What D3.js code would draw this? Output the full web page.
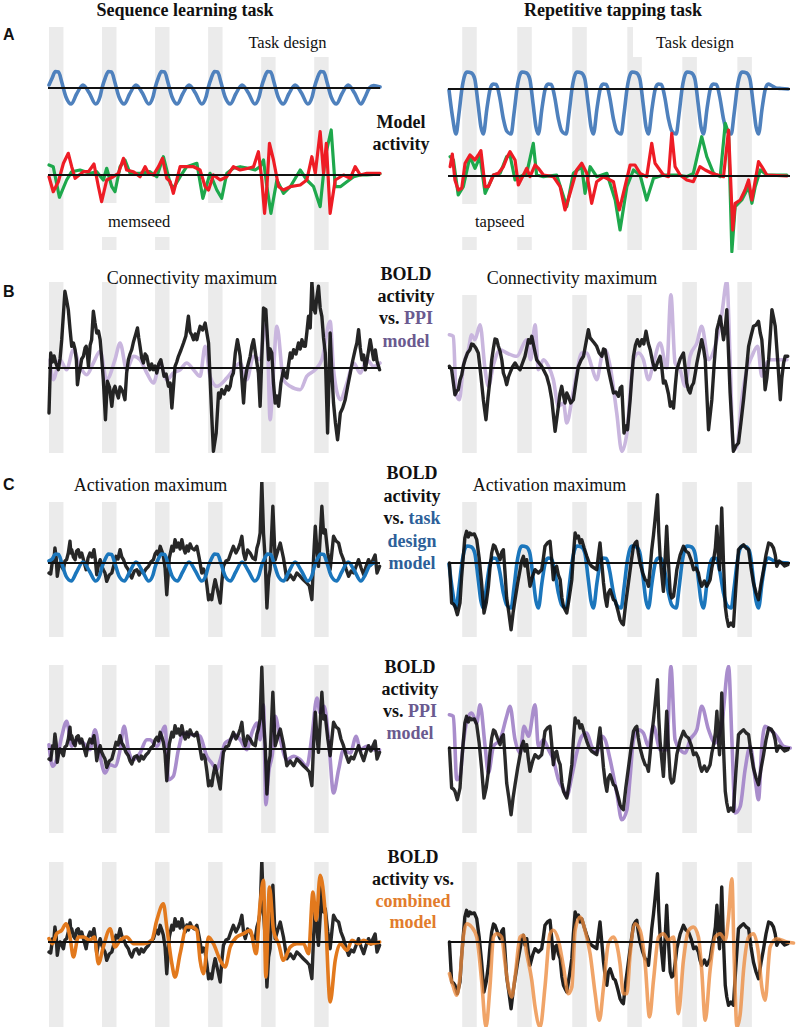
<!DOCTYPE html>
<html><head><meta charset="utf-8">
<script src="https://cdn.jsdelivr.net/npm/d3@7"></script>
<style>body{margin:0;background:#fff}svg{display:block}</style>
</head><body>
<script>
// ================= DATA (time in scans, values in a.u.) =================
const bandStartsL = [0, 25, 50, 75, 100, 125];
const bandStartsR = [6, 31, 56, 81, 106, 131];
const bandWidthL = 6.8, bandWidthR = 6.6;

// Task design regressors
const taskDesignL = [[0,0.3],[1.5,1.0],[3,1.65],[4.5,1.6],[6,0.6],[8,-0.9],[10.5,-1.6],[13,-0.6],[16,0.3],[19,-0.5],[22,-1.6],[24,-0.9],
[25,0.0],[26.5,1.0],[28,1.65],[29.5,1.6],[31,0.6],[33,-0.9],[35.5,-1.6],[38,-0.6],[41,0.3],[44,-0.5],[47,-1.6],[49,-0.9],
[50,0.0],[51.5,1.0],[53,1.65],[54.5,1.6],[56,0.6],[58,-0.9],[60.5,-1.6],[63,-0.6],[66,0.3],[69,-0.5],[72,-1.6],[74,-0.9],
[75,0.0],[76.5,1.0],[78,1.65],[79.5,1.6],[81,0.6],[83,-0.9],[85.5,-1.6],[88,-0.6],[91,0.3],[94,-0.5],[97,-1.6],[99,-0.9],
[100,0.0],[101.5,1.0],[103,1.65],[104.5,1.6],[106,0.6],[108,-0.9],[110.5,-1.6],[113,-0.6],[116,0.3],[119,-0.5],[122,-1.6],[124,-0.9],
[125,0.0],[126.5,1.0],[128,1.65],[129.5,1.6],[131,0.6],[133,-0.9],[135.5,-1.6],[138,-0.6],[141,0.3],[144,-0.5],[147,-1.6],[149,-0.9],
[151,0.0],[153,0.25],[156,0.1]];

const taskDesignR = [[0,-0.1],[1.6,-2.8],
[3.2,-4.5],[4.5,-2.5],[6,0.2],[7.2,1.4],[8.2,1.7],[10.2,1.6],[11.7,1.0],[13.2,-1.5],[14.5,-3.8],[15.6,-4.5],[17.2,-2.0],[18.7,0.0],[20,0.5],[21.5,0.45],[23,-0.8],[24.7,-3.0],[26.2,-4.2],
[28.2,-4.5],[29.5,-2.5],[31,0.2],[32.2,1.4],[33.2,1.7],[35.2,1.6],[36.7,1.0],[38.2,-1.5],[39.5,-3.8],[40.6,-4.5],[42.2,-2.0],[43.7,0.0],[45,0.5],[46.5,0.45],[48,-0.8],[49.7,-3.0],[51.2,-4.2],
[53.2,-4.5],[54.5,-2.5],[56,0.2],[57.2,1.4],[58.2,1.7],[60.2,1.6],[61.7,1.0],[63.2,-1.5],[64.5,-3.8],[65.6,-4.5],[67.2,-2.0],[68.7,0.0],[70,0.5],[71.5,0.45],[73,-0.8],[74.7,-3.0],[76.2,-4.2],
[78.2,-4.5],[79.5,-2.5],[81,0.2],[82.2,1.4],[83.2,1.7],[85.2,1.6],[86.7,1.0],[88.2,-1.5],[89.5,-3.8],[90.6,-4.5],[92.2,-2.0],[93.7,0.0],[95,0.5],[96.5,0.45],[98,-0.8],[99.7,-3.0],[101.2,-4.2],
[103.2,-4.5],[104.5,-2.5],[106,0.2],[107.2,1.4],[108.2,1.7],[110.2,1.6],[111.7,1.0],[113.2,-1.5],[114.5,-3.8],[115.6,-4.5],[117.2,-2.0],[118.7,0.0],[120,0.5],[121.5,0.45],[123,-0.8],[124.7,-3.0],[126.2,-4.2],
[128.2,-4.5],[129.5,-2.5],[131,0.2],[132.2,1.4],[133.2,1.7],[135.2,1.6],[136.7,1.0],[138.2,-1.5],[139.5,-3.8],[140.6,-4.5],[142.2,-2.0],[143.7,0.0],[145,0.5],[146.5,0.35],[148.5,0.1],[151,0.05],[154,0.0]];

// Model activity (A)
const memseedRed = [[0,-0.17],[2,-1.67],[4.4,-0.67],[6.8,1.17],[9.1,2.17],[10.7,0.83],[12.3,-0.33],[16.2,0.33],[18.6,0.33],[21.2,1.1],[23.3,-1.17],[24.8,-2.67],[27.2,-0.5],[30.3,-0.17],[32.7,0.17],[35.1,1.67],[36.6,0.5],[39.8,0.33],[42.9,-0.17],[45.3,0.83],[46.9,0.17],[49.2,0],[51.6,0.83],[53.5,1.67],[55.5,-0.33],[57.1,-0.67],[58.6,-1.83],[61.8,0.83],[64.9,0.83],[68.1,0.83],[71.2,0.5],[73.6,-1.17],[75.2,-1.5],[77.5,0],[80.7,-0.5],[83.8,-0.17],[86.9,0.83],[90.1,0.5],[94,0.67],[96.4,0.83],[98.7,2.33],[100.3,-0.5],[101.6,-3.83],[102.7,-1.17],[103.9,3.17],[105.8,1.5],[108.2,-1.17],[110.5,-1.5],[113.7,-1.17],[118.4,-1.0],[121.5,-0.5],[123.9,1.83],[125.5,0.17],[127.8,4.33],[129.4,0.17],[130.7,3.17],[132.5,-3.83],[134.9,-0.5],[138.8,0],[142,-0.33],[144.3,0.83],[146.7,0],[149.8,0.17],[156,0.17]];
const memseedGreen = [[0,1.0],[2,0.83],[4.9,-2.23],[8.3,-0.5],[10.7,0.33],[14.6,0.5],[19.3,0.17],[22.5,0.33],[25.6,-0.5],[27.2,0.67],[29.6,-1.17],[31.1,-1.67],[33.5,0.83],[35.8,1.5],[38.2,0.17],[42.9,0.17],[47.6,0.33],[50.8,-0.17],[53.9,1.83],[57.1,-0.83],[58.6,-1.33],[61.8,-0.17],[64.9,0.83],[69.7,1.17],[72.5,-2.33],[75.9,0.17],[79.1,-1.5],[81.4,-2.33],[83.8,0.17],[86.9,0.67],[90.1,0.83],[94,0.67],[97.2,0.5],[99.5,0.83],[101.1,1.5],[102.7,-1.17],[104.6,-3.83],[107.4,-0.5],[110.5,-1.83],[113.7,-1.17],[118.4,0.5],[121.5,-0.5],[124.7,-1.17],[127.8,-3.17],[130.2,1.83],[133,4.5],[134.9,-1.17],[137.3,-1.17],[140.4,-0.67],[143.6,-0.17],[146.7,0],[149.8,0],[156,0.1]];
const tapseedRed = [[0.5,0.93],[1.5,2.2],[2.7,-0.4],[4.2,-1.4],[5.8,-1.23],[7.3,1.27],[9.5,2.1],[11.8,1.6],[13.3,2.1],[14.5,2.53],[16.4,-1.07],[17.9,-1.07],[20.2,0.1],[22.4,0.27],[24.7,0.93],[26.2,1.77],[27.7,2.43],[30,1.6],[31.5,-0.9],[33.8,0.1],[35.3,0.77],[36.8,-0.07],[39.1,1.1],[40.6,0.77],[42.9,0.1],[47.4,-0.07],[50.5,-1.07],[52.7,-3.4],[55,-1.73],[58,0.6],[60.3,1.27],[62.6,0.27],[64.8,-2.73],[67.1,-0.57],[70.2,-0.07],[74.7,-0.57],[77.4,-3.4],[79.2,-1.73],[82.3,1.1],[84.5,1.1],[86.8,0.27],[89.8,-0.07],[92.1,3.27],[93.6,1.27],[97.4,0.1],[99.7,-0.07],[101.2,4.27],[102.7,0.93],[105,0.1],[108,-0.4],[111,-0.57],[114,0.93],[116.4,0.6],[119.4,0.27],[124.7,-0.07],[127,4.6],[128.9,-5.4],[130,-2.73],[132.3,-2.4],[134.5,-1.4],[136.1,-0.4],[137.6,-2.4],[140.6,1.43],[142.1,0.93],[144.4,0.1],[153.5,0]];
const tapseedGreen = [[0.5,1.93],[2,1.6],[4.2,-1.9],[6.5,-1.07],[9.5,1.93],[11.8,0.77],[14.1,1.93],[16.4,-1.73],[20.2,0.1],[23.2,0.27],[26.2,1.93],[27.7,2.1],[30,-0.4],[32.3,-0.07],[35.3,0.27],[38.3,3.27],[39.8,0.1],[42.9,-0.07],[48.9,0.1],[53.5,-3.07],[56.5,0.27],[60.3,0.93],[61.8,-1.73],[64.1,0.93],[67.1,-0.07],[71.7,0.27],[75.5,-2.4],[77.7,-5.4],[80.8,-1.07],[83.8,0.6],[86.8,0.1],[89.8,-2.4],[92.9,-0.23],[97.4,0.1],[103.5,0.1],[108,-0.07],[111,0.27],[114.8,3.93],[117.1,1.93],[120.2,0.27],[123.2,-0.07],[125.5,5.27],[127,4.27],[128.5,-7.57],[130,-3.07],[133,-2.4],[136.1,-1.07],[137.6,-2.73],[139.1,-1.07],[141.4,0.6],[144.4,0.1],[153.5,0.1]];

// B: connectivity maximum
const ppiModelL = [[0.5,0.83],[2,-1.17],[5.2,0.83],[8.3,-0.17],[11.5,1.83],[14.6,0.17],[17.8,-0.67],[20.9,0.5],[24.1,1.67],[27.2,-1.17],[31.1,0.83],[33.5,2.5],[36.6,-0.17],[39.8,1.17],[42.9,0.83],[46.1,-0.5],[49.2,-1.5],[52.4,0.5],[55.5,-1.17],[58.6,-0.5],[61.8,-0.17],[64.9,0.5],[68.1,-0.17],[71.2,-0.83],[73.6,2.17],[75.9,-0.83],[79.1,-1.83],[83.8,-1.0],[86.9,-0.17],[90.1,0.5],[93.2,-1.17],[96.4,1.17],[99.5,0.83],[101.9,4.33],[103,2.5],[104.2,-5.17],[105.8,-0.17],[107.4,4.17],[110.5,-1.17],[113.7,-1.83],[118.4,-2.17],[121.5,-0.83],[125.5,-0.17],[128.6,0.83],[132.5,4.67],[134.1,-0.17],[137.3,-3.17],[140.4,-1.5],[143.6,0.5],[146.7,-0.5],[149.8,0.83],[153,0.17],[156,0.5]];
const boldConnL = [[0,-4.5],[0.8,1.5],[1.6,0.6],[2.4,1.2],[3.2,0.5],[4.4,-0.17],[5.2,0.9],[6,2.83],[7.5,7.67],[8.3,6.8],[9.1,5.83],[9.9,3.9],[10.7,2.17],[11.5,2.5],[12.3,1.83],[12.9,0.8],[13.4,-1.67],[14.1,-0.6],[14.6,-0.17],[15.4,0.9],[16.2,1.17],[17,2.0],[17.5,2.17],[18.1,1.3],[18.6,0.17],[19.4,2.3],[20.1,2.83],[20.9,5.67],[21.7,4.5],[22.5,3.5],[23.3,3.7],[24.1,2.83],[24.9,0.8],[25.6,-1.17],[26.6,-5.17],[27.5,-1.33],[28.5,-1.9],[29.6,-3.83],[30.4,-2.2],[31.1,-1.83],[31.9,-2.5],[32.7,-3.0],[33.5,-1.9],[34.3,-2.17],[35.1,-2.6],[35.8,-3.17],[36.6,-0.5],[37.4,0.83],[38.2,1.4],[39,1.83],[39.8,2.6],[40.6,3.17],[41.7,4.0],[42.3,3.0],[42.9,2.17],[43.7,1.0],[44.5,0.5],[45.3,1.4],[46.1,1.17],[46.9,0.3],[47.6,-0.17],[48.4,0.4],[49.2,-0.17],[50,0.2],[50.8,-0.5],[51.7,0.4],[52.7,0.83],[53.4,0.1],[54.2,-0.83],[55.2,-0.6],[56.3,-1.83],[57.1,-1.5],[57.9,-4.0],[59.4,0.17],[60.2,0.6],[61,1.17],[62.2,1.8],[63.4,2.5],[64.5,3.2],[65.7,5.17],[66.5,3.6],[67.3,3.3],[68.1,2.83],[68.9,3.4],[69.7,2.83],[70.4,3.5],[71.2,4.17],[72.4,3.8],[73.6,4.5],[74.4,3.5],[75.2,2.5],[76.7,-4.83],[77.5,-8.33],[78.8,-6.5],[79.9,-2.5],[80.6,-3.0],[81.4,-2.17],[82.6,-2.6],[83.8,-1.83],[84.6,-2.2],[85.4,-1.83],[86.1,-0.9],[86.9,-0.5],[87.8,1.5],[88.8,2.83],[89.5,2.0],[90.1,1.17],[91.7,-3.5],[92.4,-1.2],[93.2,-0.17],[94,0.5],[94.8,1.17],[95.6,2.2],[96.4,2.83],[97.5,1.2],[98.7,-0.5],[99.5,-3.83],[101.1,6.0],[102.2,5.83],[103.5,0.83],[104.2,1.9],[105,1.5],[105.8,-1.5],[106.6,-3.5],[107.4,-2.8],[108.2,-3.83],[109.3,-1.5],[110.5,-0.17],[111.3,-0.8],[112.1,-1.0],[112.9,0.3],[113.7,1.5],[114.5,1.0],[115.3,1.83],[116.4,1.4],[117.6,2.5],[118.4,1.9],[119.2,2.83],[120,2.2],[120.8,2.17],[121.5,3.5],[122.3,5.17],[123.1,4.0],[123.9,8.67],[124.7,6.0],[125.5,5.5],[126.2,7.0],[127,8.17],[127.8,6.0],[128.6,5.17],[129.4,3.0],[130.2,1.5],[131.3,-6.5],[132.5,3.5],[133.3,-0.5],[134.1,-3.5],[135,-5.5],[136,-7.17],[136.6,-6.0],[137.3,-4.5],[138.4,-4.0],[139.6,-3.17],[140.8,-1.8],[142,-0.5],[143.1,0.7],[144.3,1.83],[145.1,2.5],[145.9,3.83],[146.7,2.0],[147.5,0.83],[148.3,1.3],[149.1,-0.17],[150.2,1.2],[151.4,2.83],[152.2,1.8],[153,0.83],[153.8,1.8],[154.6,0.67],[155.8,-0.17]];
const ppiModelR = [[0.2,3.33],[2,3.17],[3.2,-2.5],[4.7,-3.17],[6.5,0.17],[8.8,1.83],[10.3,3.33],[11.8,2.83],[14.1,4.33],[16.4,-0.17],[17.9,-1.83],[20.2,0.33],[23.2,1.83],[26.2,1.5],[30.8,1.17],[35.3,2.83],[37.1,0.83],[39.1,4.33],[40.6,-0.17],[42.9,0.83],[45.2,0.17],[47.4,-1.17],[49.7,-3.83],[52,-3.5],[53.5,-5.5],[55.8,-3.17],[58,-0.5],[60.3,1.5],[62.6,1.5],[64.8,0.17],[67.1,-1.17],[69.4,1.17],[70.9,1.83],[73.2,0.17],[76.2,-4.5],[78.5,-8.33],[80.8,-6.5],[82.3,-2.5],[83.8,0.83],[86.1,1.5],[88.3,0.83],[90.6,-1.17],[92.9,0.5],[95.9,2.5],[98.9,0],[100.8,7.33],[102.7,0.5],[105,-0.17],[107.3,-1.83],[109.5,1.17],[112.6,2.5],[114.8,4.17],[117.9,0.83],[120.9,2.17],[124,5.5],[126.2,8.67],[127.7,0.83],[129.2,-8.17],[130.8,-7.83],[133,-3.17],[135.3,-0.17],[137.6,1.17],[140.2,2.17],[142.1,-0.83],[143.6,0.17],[145.9,0.83],[148.9,0.83],[153.5,0.83]];
const boldConnR = [[0.2,0.17],[1.2,-0.17],[2,-1.5],[2.7,-2.67],[3.5,-2.3],[4.2,-2.17],[5,-1.2],[5.8,-0.67],[6.6,0.3],[7.3,0.83],[8.4,1.5],[9.5,1.83],[10.3,2.4],[11.1,2.33],[12.2,2.0],[13.3,1.5],[14.5,-0.8],[15.6,-3.17],[16.8,-5.17],[17.7,-3.0],[18.6,-1.17],[19.4,0.8],[20.2,2.0],[20.9,2.9],[21.7,2.83],[22.4,2.2],[23.2,1.67],[24,0.8],[24.7,-0.5],[25.5,-1.0],[26.2,-1.67],[27,-0.9],[27.7,-0.5],[28.8,0.1],[30,0.5],[31.1,0.1],[32.3,-0.17],[33.4,0.5],[34.5,1.17],[35.3,2.0],[36.1,2.83],[36.9,2.5],[37.6,3.17],[38.7,2.0],[39.8,0.83],[40.9,0.5],[42.1,0.17],[43.2,-0.3],[44.4,-0.83],[45.6,-1.8],[46.7,-3.17],[48.2,-6.33],[49.7,-3.83],[50.4,-2.6],[51.2,-1.83],[52,-2.8],[52.7,-3.5],[53.5,-2.5],[54.2,-2.83],[55.3,-3.5],[56.5,-3.17],[57.6,-1.5],[58.8,0.17],[60,0.8],[61.1,1.17],[62.2,2.5],[63.3,3.83],[64.1,3.0],[64.8,2.83],[66,2.5],[67.1,2.17],[68.2,1.5],[69.4,1.17],[70.2,1.9],[70.9,1.83],[71.7,0.8],[72.4,-0.17],[73.5,-1.3],[74.7,-2.5],[75.8,-2.4],[77,-2.83],[77.8,-2.0],[78.5,-1.83],[79.5,-6.5],[80.3,-5.8],[81.1,-6.17],[82.3,-3.17],[83,-1.0],[83.8,1.17],[84.7,2.3],[85.6,2.83],[86.6,2.2],[87.6,2.83],[88.5,2.4],[89.5,3.67],[90.5,2.5],[91.4,1.83],[92.5,0.6],[93.6,-0.17],[94.8,0.6],[95.9,1.17],[96.6,0.2],[97.4,-1.5],[98.2,-1.3],[98.9,-1.83],[99.7,-2.6],[100.5,-3.83],[101.2,-3.4],[102,-4.0],[102.8,-1.8],[103.5,-0.17],[105,0.9],[106.5,1.5],[107.2,0.2],[108,-1.5],[108.8,-2.2],[109.5,-2.5],[110.3,-1.8],[111.1,-1.5],[111.9,-0.5],[112.6,0.5],[113.7,1.7],[114.8,2.83],[115.6,2.0],[116.4,0.83],[117.9,-6.17],[119.4,-3.17],[120.5,0.5],[121.7,3.83],[122.5,4.5],[123.2,5.17],[124,4.0],[124.7,2.83],[125.5,4.0],[126.2,5.83],[127.7,-2.5],[129.2,-8.33],[130.3,-7.8],[131.5,-7.5],[132.6,-5.5],[133.8,-3.17],[135,-0.5],[136.1,2.17],[137.2,3.2],[138.3,4.17],[139.5,4.3],[140.6,4.67],[141.4,3.5],[142.1,2.83],[142.9,0.5],[143.6,-2.17],[144.4,-1.0],[145.2,0.83],[146,3.5],[146.7,5.83],[147.5,5.0],[148.2,4.17],[149.4,0.5],[150.5,-3.17],[151.2,-1.0],[152,0.5],[152.7,1.17],[153.9,1.17]];

// C: activation maximum (same BOLD trace in C1-C3)
const boldActL = [[0,-1.0],[0.8,-1.1],[1.7,0.33],[2.3,0.2],[2.8,1.5],[3.4,0.5],[3.9,-1.33],[4.5,-0.5],[5.2,0],[6,-0.3],[6.8,-0.67],[7.5,0.2],[8.3,0.33],[9.1,1.0],[9.9,2.17],[10.3,1.0],[10.7,1.33],[11.5,0.6],[12.3,0.33],[13,1.2],[13.8,1.33],[14.6,0.6],[15.4,1.0],[16.4,0.2],[17.5,-0.67],[18.4,0.5],[19.3,1.0],[20.2,0.6],[21.2,1.33],[21.8,0.4],[22.5,-1.17],[23.3,-0.2],[24.1,0.33],[24.8,-0.3],[25.6,-0.67],[26.4,-1.0],[27.2,-1.83],[28.4,-1.2],[29.6,-1.0],[30.6,-0.2],[31.6,0.67],[32.5,0.4],[33.5,1.33],[34.3,0.6],[35.1,0.33],[36.2,-0.3],[37.4,-0.67],[38.2,-1.2],[39,-1.5],[40.2,-0.8],[41.4,-0.67],[42.5,-1.2],[43.5,-0.7],[44.5,-1.0],[45.7,-0.6],[46.9,-0.33],[48,0.1],[49.2,0.33],[50,0.9],[50.8,1.17],[51.6,0.8],[52.4,1.67],[53.2,1.2],[53.9,0.67],[54.7,-0.5],[55.5,-3.17],[56.7,0.5],[57.9,1.67],[58.6,1.2],[59.4,2.33],[60.2,1.6],[61,2.0],[61.8,1.4],[62.6,2.33],[63.4,1.5],[64.2,1.0],[65,1.7],[65.7,1.2],[66.5,1.9],[67.3,1.5],[68.5,1.3],[69.7,1.67],[70.8,0.5],[72,-1.0],[72.8,-0.6],[73.6,-1.0],[74.4,-2.2],[75.2,-3.67],[76,-3.2],[76.7,-3.67],[77.5,-2.5],[78.3,-1.67],[79.5,-2.8],[80.7,-4.0],[81.5,-1.8],[82.2,-0.33],[83.4,0.2],[84.6,0.33],[85.7,1.0],[86.9,1.67],[88.1,1.0],[89.3,1.5],[90.1,2.0],[90.9,2.67],[91.7,1.0],[92.5,0.33],[93.6,1.3],[94.8,1.0],[96,0.5],[97.2,0.33],[98,1.5],[98.7,2.0],[99.5,3.0],[100.3,8.17],[101.1,3.0],[101.9,0.33],[102.7,-4.5],[103.5,-1.5],[104.2,-0.67],[105.5,5.67],[106.6,0.33],[107.8,1.2],[109,2.0],[110.5,0.5],[112.1,-1.67],[113.7,-1.2],[115.3,-1.67],[116.8,-1.0],[118.4,-1.33],[120,-1.7],[121.5,-2.0],[122.7,-2.3],[123.9,-3.67],[124.7,0.5],[125.5,3.67],[126.2,1.5],[127,-0.33],[127.8,2.5],[128.6,5.67],[129.4,3.0],[130.2,3.33],[131.4,1.0],[132.5,-0.67],[133.3,1.0],[134.1,2.67],[135.3,2.2],[136.5,2.0],[137.6,1.0],[138.8,0.33],[140,-0.6],[141.2,-1.33],[142.4,-0.8],[143.6,-1.0],[144.8,-0.3],[145.9,0.33],[147.1,-0.5],[148.3,-1.17],[149.5,-0.3],[150.6,0.33],[151.7,-0.2],[152.7,0.33],[153.7,0.8],[154.6,-1.0],[155.8,-0.33]];
const boldActR = [[0.2,0],[0.7,-2.0],[1.2,-4.0],[2,-4.1],[2.7,-4.33],[3.8,-5.17],[5,-4.0],[5.7,-1.5],[6.5,0.67],[7.2,2.5],[8,3.17],[8.8,2.6],[9.5,3.0],[10.3,2.83],[11.5,2.9],[12.6,2.33],[13.7,0.5],[14.8,-2.0],[15.9,-5.0],[16.9,-4.0],[17.9,-2.33],[18.6,-0.5],[19.4,1.0],[20.2,1.8],[20.9,1.67],[22,1.0],[23.2,0.33],[24,1.1],[24.7,1.33],[25.4,-0.8],[26.2,-3.5],[27.2,-5.0],[28.2,-6.67],[29.1,-5.0],[30,-3.67],[31.2,-2.0],[32.3,-0.67],[33,0.2],[33.8,0.67],[34.5,-0.3],[35.3,0.33],[36,-1.0],[36.8,-2.33],[38,-1.3],[39.1,-0.67],[40.6,-1.0],[42.1,-0.67],[42.9,0.5],[43.6,1.67],[44.7,2.0],[45.9,2.17],[46.6,0.5],[47.4,-1.67],[48.2,-0.5],[48.9,-0.33],[49.7,-1.2],[50.5,-1.67],[51.3,-3.5],[52,-4.33],[52.8,-4.7],[53.5,-5.0],[54.6,-3.5],[55.8,-1.67],[56.5,0.8],[57.3,3.0],[58,2.5],[58.8,2.7],[59.5,2.0],[60.3,2.33],[61.4,1.5],[62.6,0.67],[63.7,0.0],[64.8,-0.33],[66,-0.5],[67.1,-0.67],[67.9,0.8],[68.6,2.0],[69.4,0.0],[70.2,-2.0],[71,-3.5],[71.7,-4.33],[72.4,-3.0],[73.2,-2.67],[74,-3.2],[74.7,-3.67],[75.5,-3.8],[76.2,-4.33],[77,-5.0],[77.7,-5.67],[78.5,-6.0],[79.2,-6.17],[80.3,-4.0],[81.5,-2.0],[82.7,0.0],[83.8,1.67],[84.6,2.0],[85.3,2.17],[86,1.0],[86.8,0],[88,-1.0],[89.1,-1.67],[89.9,-1.8],[90.6,-2.33],[91.4,-0.5],[92.1,1.33],[92.9,2.8],[93.6,4.33],[94.7,6.83],[95.3,3.0],[95.9,0.67],[96.6,-1.0],[97.4,-2.83],[98.2,0.5],[98.9,3.67],[99.7,0.0],[100.5,-3.0],[101.2,-3.5],[102,-3.33],[102.8,-2.0],[103.5,-0.67],[105,0.8],[106.5,1.67],[107.6,1.2],[108.8,1.0],[110,0.3],[111.1,-0.67],[112.2,-0.5],[113.3,-1.0],[114,-1.8],[114.8,-2.33],[116,-1.8],[117.1,-2.33],[117.9,-2.0],[118.6,-1.67],[119.4,-0.5],[120.2,0.33],[121,1.5],[121.7,3.67],[122.3,1.0],[122.9,-0.67],[123.4,2.0],[123.9,5.5],[124.7,0.0],[125.5,-4.33],[126.2,-5.5],[127,-6.33],[128.1,-6.0],[129.2,-6.33],[130.3,-2.5],[131.5,1.33],[132.6,1.6],[133.8,1.83],[135,1.5],[136.1,1.33],[137.2,-0.5],[138.3,-2.0],[139.5,-3.0],[140.6,-3.67],[141.8,-2.0],[142.9,-0.67],[144,0.8],[145.2,2.0],[146.3,1.9],[147.4,1.5],[148.2,0.8],[148.9,-0.33],[150,0.2],[151.2,0],[152.5,-0.3],[153.9,-0.17]];

// C1: task design model fit
const taskFitL = [[0,0.2],[1.5,0.4],[3,0.9],[4.5,0.85],[6,0.0],[8,-1.3],[10.5,-1.8],[13,-0.9],[16,0.1],[19,-0.8],[22,-1.8],[24,-1.2],
[25,-0.4],[26.5,0.4],[28,0.9],[29.5,0.85],[31,0.0],[33,-1.3],[35.5,-1.8],[38,-0.9],[41,0.1],[44,-0.8],[47,-1.8],[49,-1.2],
[50,-0.4],[51.5,0.4],[53,0.9],[54.5,0.85],[56,0.0],[58,-1.3],[60.5,-1.8],[63,-0.9],[66,0.1],[69,-0.8],[72,-1.8],[74,-1.2],
[75,-0.4],[76.5,0.4],[78,0.9],[79.5,0.85],[81,0.0],[83,-1.3],[85.5,-1.8],[88,-0.9],[91,0.1],[94,-0.8],[97,-1.8],[99,-1.2],
[100,-0.4],[101.5,0.4],[103,0.9],[104.5,0.85],[106,0.0],[108,-1.3],[110.5,-1.8],[113,-0.9],[116,0.1],[119,-0.8],[122,-1.8],[124,-1.2],
[125,-0.4],[126.5,0.4],[128,0.9],[129.5,0.85],[131,0.0],[133,-1.3],[135.5,-1.8],[138,-0.9],[141,0.1],[144,-0.8],[147,-1.8],[149,-1.2],
[151,-0.3],[153,0.0]];
const taskFitR = taskDesignR;

// C2: PPI model fit
const ppiFitL = [[0,0.43],[1.7,-1.73],[3.6,-1.07],[6,1.27],[8.3,2.77],[10.7,0.27],[13.1,0.93],[16.2,0.6],[19.3,-0.07],[21.7,1.93],[24.1,-0.73],[26.4,-2.4],[28.8,-1.57],[31.1,-1.73],[33.5,-0.07],[35.4,2.27],[37.4,-0.07],[39.8,-1.07],[42.9,-0.4],[46.1,0.93],[47.6,0.93],[50.8,0.27],[54.7,2.27],[56.3,-3.07],[58.6,-2.73],[61,-0.07],[63.4,1.6],[66.5,1.43],[69.7,1.43],[71.2,1.27],[74.4,-0.73],[76.7,-1.4],[79.1,-2.07],[80.7,-1.07],[83,0.6],[85.4,0.93],[87.7,1.43],[90.1,0.93],[93.2,-0.07],[95.6,1.6],[98,2.6],[99.5,0.93],[101.1,4.43],[102.2,-5.57],[103.5,-2.4],[105.5,-0.07],[106.6,3.27],[109,0.93],[112.1,-1.07],[115.3,-0.73],[118.4,-1.07],[121.5,-1.73],[123.9,1.27],[126.3,5.1],[127.8,3.6],[129.7,4.27],[131.8,0.93],[134.1,-4.4],[136.5,-2.07],[138.8,-0.07],[142,-0.4],[144.8,1.27],[146.7,-0.07],[149.8,0.27],[153,-0.07],[155.8,-0.07]];
const ppiFitR = [[0.2,3.33],[2,3.17],[3.5,-3.17],[5,-2.83],[6.5,0.5],[8.8,3.17],[10.3,3.5],[12.6,2.5],[14.1,4.33],[16.4,0.17],[17.9,-2.5],[20.2,0.17],[23.2,0.83],[26.2,3.17],[27.7,4.17],[30,0.83],[32.3,-0.5],[34.1,2.17],[36.1,1.17],[39.1,4.33],[40.6,0.17],[42.9,0.83],[45.2,-0.17],[47.4,-1.17],[49.7,-3.17],[52,-4.17],[53.5,-4.83],[55.8,-2.83],[58,-0.5],[60.3,1.17],[62.6,1.5],[64.8,0.17],[67.1,-0.5],[69.4,1.17],[70.9,0.83],[73.2,-1.17],[76.2,-4.5],[78.5,-7.17],[80.8,-6.17],[82.3,-2.83],[83.8,0.83],[86.1,1.83],[88.3,1.5],[90.6,0.17],[92.9,2.17],[95.9,-0.17],[98.9,-0.17],[100.8,8.17],[102.7,0.83],[105,-0.17],[107.3,-0.5],[109.5,0.83],[112.6,1.83],[114.8,4.17],[117.9,1.83],[120.9,0.5],[124,2.5],[127,8.17],[128.5,0.83],[130,-6.5],[132.3,-5.83],[134.5,-2.17],[136.8,0.17],[139.1,-3.17],[140.6,-5.17],[142.1,0.17],[143.6,2.17],[145.9,1.83],[148.9,1.17],[152,0.17],[155,0]];

// C3: combined model fit
const combFitL = [[0,0.33],[1.7,-0.17],[3.6,0.83],[6,1.17],[8,1.83],[9.9,0.5],[11.5,-1.5],[13.8,0.5],[16.2,0.5],[19.3,0.17],[21.4,0.5],[23.3,-2.17],[25.6,-0.5],[28.8,1.33],[31.1,-0.5],[33.5,0.17],[36.6,0.5],[39.8,-0.17],[44.5,-0.17],[48.4,0.17],[50.8,2.17],[53.9,3.83],[55.5,1.5],[57.9,-2.17],[59.4,-3.5],[61.8,-1.17],[64.9,1.5],[67.3,1.5],[69.7,1.17],[71.2,-1.83],[72.8,-3.17],[75.2,0.5],[77.5,-0.17],[80.7,-1.83],[83,-2.5],[85.4,-0.5],[88.5,0.5],[91.7,0.83],[94.8,1.17],[97.6,-1.17],[99.5,3.83],[101.1,6.17],[102.2,-3.5],[103.9,5.5],[105.8,1.17],[108.2,-0.17],[110.5,-1.83],[113.7,-0.5],[116.8,-0.17],[120,-0.17],[122.3,-1.17],[124.4,5.0],[125.9,2.17],[127.8,6.67],[130.2,2.83],[132.5,-6.0],[134.9,-1.83],[137.3,-0.17],[140.4,-0.83],[142.8,0.17],[145.9,-0.17],[148.3,0.17],[151.4,-0.17],[155.8,0]];
const combFitR = [[0.2,-3.17],[2,-4.5],[3.5,-5.33],[5,-3.5],[6.5,0.5],[8,1.83],[10.3,1.5],[12.6,0.5],[14.8,-3.83],[16.8,-8.5],[18.6,-4.5],[20.2,0.5],[21.7,0.83],[23.9,0.5],[25.5,-2.17],[27,-4.5],[28.5,-5.5],[30,-3.5],[32.3,0.5],[33.8,0.67],[35.3,-1.17],[37.6,-3.83],[39.1,-6.5],[41.4,-8.5],[43.6,-4.5],[45.9,0.83],[47.4,1.17],[49.7,0.17],[52,-2.5],[54.2,-5.17],[55.8,-4.5],[57.3,1.17],[59.5,2.5],[61.8,1.17],[64.1,-1.17],[66.4,-5.17],[68.3,-7.83],[70.2,-4.5],[72.4,-0.17],[74.7,0.5],[77.7,-2.17],[79.2,-5.17],[80.8,-5.17],[82.3,-1.17],[84.5,1.83],[86.8,1.17],[89.1,-2.17],[91.1,-7.5],[92.9,-3.83],[95.2,0.5],[97.4,0.83],[99.7,0.17],[102,0.5],[104.2,-7.17],[106.5,-1.83],[108.8,1.17],[111.1,1.5],[113.3,0.5],[114.8,-2.83],[116.4,-7.83],[118.6,-2.83],[120.9,0.5],[123.2,0.83],[125.5,0.17],[127,2.5],[128.5,6.33],[129.5,-1.17],[130.8,-8.5],[132.3,-7.17],[133.8,-2.83],[136.1,0.5],[138.3,0.83],[140.6,-1.17],[142.1,-4.5],[143.6,-5.83],[145.9,-0.5],[148.9,0.33],[153.5,0],[156.5,-0.1]];

// ================= DRAWING =================
const svg = d3.select("body").append("svg").attr("width", 800).attr("height", 1032)
  .style("font-family", "'Liberation Serif','Times New Roman',serif");

const xL = d3.scaleLinear().domain([0, 156]).range([49, 380]);
const xR = d3.scaleLinear().domain([0, 154]).range([449, 788]);
const cols = [
  {x: xL, bands: bandStartsL, bw: bandWidthL, x0: 48, x1: 380},
  {x: xR, bands: bandStartsR, bw: bandWidthR, x0: 448, x1: 790}
];
const rows = [
  {top: 27, bottom: 250}, {top: 282, bottom: 453}, {top: 482, bottom: 637},
  {top: 665, bottom: 833}, {top: 862, bottom: 1027}
];
const yAt = base => d3.scaleLinear().domain([-1, 1]).range([base + 10, base - 10]);

// gray task blocks
rows.forEach(r => cols.forEach(c => {
  svg.append("g").selectAll("rect").data(c.bands).join("rect")
    .attr("x", d => c.x(d)).attr("width", d => c.x(d + c.bw) - c.x(d))
    .attr("y", r.top).attr("height", r.bottom - r.top)
    .attr("fill", "#ebebeb");
}));
// white boxes behind text labels (cut into blocks)
[[240,27,100,30],[633,27,127,30],[95,203,117,34],[212,203,14,47],[208,213,4,37],[455,204,100,33],
 [449,282,221,13],[45,482,205,20],[449,482,221,20]].forEach(b =>
  svg.append("rect").attr("x", b[0]).attr("y", b[1]).attr("width", b[2]).attr("height", b[3]).attr("fill", "#fff"));

const defs = svg.append("defs");
let clipN = 0;
function panel(col, r) {
  const id = "clip" + (clipN++);
  defs.append("clipPath").attr("id", id).append("rect")
    .attr("x", col.x0 - 4).attr("y", r.top).attr("width", col.x1 - col.x0 + 10).attr("height", r.bottom - r.top);
  return svg.append("g").attr("clip-path", `url(#${id})`);
}
function trace(g, data, x, y, color, w, opacity = 1, curve = d3.curveLinear) {
  g.append("path").datum(data)
    .attr("d", d3.line().x(d => x(d[0])).y(d => y(d[1])).curve(curve))
    .attr("fill", "none").attr("stroke", color).attr("stroke-width", w)
    .attr("stroke-linejoin", "round").attr("stroke-linecap", "round").attr("opacity", opacity);
}
function baseline(col, yb) {
  svg.append("line").attr("x1", col.x0).attr("x2", col.x1).attr("y1", yb).attr("y2", yb)
    .attr("stroke", "#111").attr("stroke-width", 2.2);
}
const smooth = d3.curveMonotoneX;
const BW = 3.4;

// Row A
{
  const specs = [
    {col: cols[0], tb: 88, mb: 175, task: taskDesignL, red: memseedRed, green: memseedGreen},
    {col: cols[1], tb: 89, mb: 176, task: taskDesignR, red: tapseedRed, green: tapseedGreen}
  ];
  specs.forEach(s => {
    const g = panel(s.col, {top: 20, bottom: 253});
    trace(g, s.task, s.col.x, yAt(s.tb), "#4f81bd", 3.6, 1, smooth);
    trace(g, s.green, s.col.x, yAt(s.mb), "#1ea84c", 3.2);
    trace(g, s.red, s.col.x, yAt(s.mb), "#ee1c25", 3.2);
    baseline(s.col, s.tb); baseline(s.col, s.mb);
  });
}
// Row B
[[cols[0], ppiModelL, boldConnL], [cols[1], ppiModelR, boldConnR]].forEach(([c, m, b]) => {
  const g = panel(c, rows[1]); const y = yAt(368);
  trace(g, m, c.x, y, "#c9b6de", 3.6, 1, smooth);
  trace(g, b, c.x, y, "#0d0d0d", BW, 0.9);
  baseline(c, 368);
});
// Row C1
{
  let g = panel(cols[0], rows[2]); let y = yAt(563);
  trace(g, boldActL, xL, y, "#111", BW, 0.9);
  trace(g, taskFitL, xL, y, "#1b76bc", 3.6, 1, smooth);
  baseline(cols[0], 563);
  g = panel(cols[1], rows[2]);
  trace(g, taskFitR, xR, y, "#1b76bc", 3.6, 1, smooth);
  trace(g, boldActR, xR, y, "#0d0d0d", BW, 0.9);
  baseline(cols[1], 563);
}
// Row C2
[[cols[0], ppiFitL, boldActL, 749], [cols[1], ppiFitR, boldActR, 748]].forEach(([c, m, b, yb]) => {
  const g = panel(c, rows[3]); const y = yAt(yb);
  trace(g, m, c.x, y, "#a98dcc", 3.6, 1, smooth);
  trace(g, b, c.x, y, "#0d0d0d", BW, 0.88);
  baseline(c, yb);
});
// Row C3
{
  let g = panel(cols[0], rows[4]); const y = yAt(942);
  trace(g, boldActL, xL, y, "#111", BW, 0.9);
  trace(g, combFitL, xL, y, "#e2791d", 3.6, 1, smooth);
  baseline(cols[0], 942);
  g = panel(cols[1], rows[4]);
  trace(g, boldActR, xR, y, "#0d0d0d", BW, 0.92);
  trace(g, combFitR, xR, y, "#ec8a3e", 3.6, 0.78, smooth);
  baseline(cols[1], 942);
}

// ---- text ----
function txt(s, x, y, size, opts = {}) {
  return svg.append("text").attr("x", x).attr("y", y).text(s)
    .attr("font-size", size).attr("font-weight", opts.bold ? "bold" : "normal")
    .attr("text-anchor", opts.anchor || "middle").attr("fill", opts.fill || "#111")
    .style("font-family", opts.sans ? "'Liberation Sans',Arial,sans-serif" : null);
}
txt("Sequence learning task", 185, 15.5, 18, {bold: true});
txt("Repetitive tapping task", 613, 15.5, 18, {bold: true});
txt("A", 3, 40, 16, {bold: true, sans: true, anchor: "start"});
txt("B", 3, 297, 16, {bold: true, sans: true, anchor: "start"});
txt("C", 3, 490, 16, {bold: true, sans: true, anchor: "start"});
txt("Task design", 287.5, 48, 16.5);
txt("Task design", 695, 48, 16.5);
txt("memseed", 108, 227, 16.5, {anchor: "start"});
txt("tapseed", 475, 227, 16.5, {anchor: "start"});
txt("Connectivity maximum", 192, 284, 18);
txt("Connectivity maximum", 572, 284, 18);
txt("Activation maximum", 150.5, 491, 18);
txt("Activation maximum", 549.5, 491, 18);

const PURPLE = "#6a5a8f", BLUE = "#2d5f99", ORANGE = "#e27c2c";
function label(x, lines) {
  lines.forEach(([y, segs]) => {
    const t = svg.append("text").attr("x", x).attr("y", y).attr("text-anchor", "middle")
      .attr("font-size", 18).attr("font-weight", "bold");
    segs.forEach(([s, c]) => t.append("tspan").text(s).attr("fill", c || "#111"));
  });
}
label(401, [[128, [["Model"]]], [150, [["activity"]]]]);
label(406, [[280, [["BOLD"]]], [302, [["activity"]]], [324, [["vs. "], ["PPI", PURPLE]]], [347, [["model", PURPLE]]]]);
label(412, [[479, [["BOLD"]]], [501.5, [["activity"]]], [524, [["vs. "], ["task", BLUE]]], [546.5, [["design", BLUE]]], [569, [["model", BLUE]]]]);
label(410, [[673, [["BOLD"]]], [695, [["activity"]]], [717, [["vs. "], ["PPI", PURPLE]]], [739, [["model", PURPLE]]]]);
label(413, [[863, [["BOLD"]]], [885, [["activity vs."]]], [907, [["combined", ORANGE]]], [928, [["model", ORANGE]]]]);
</script>
</body></html>
